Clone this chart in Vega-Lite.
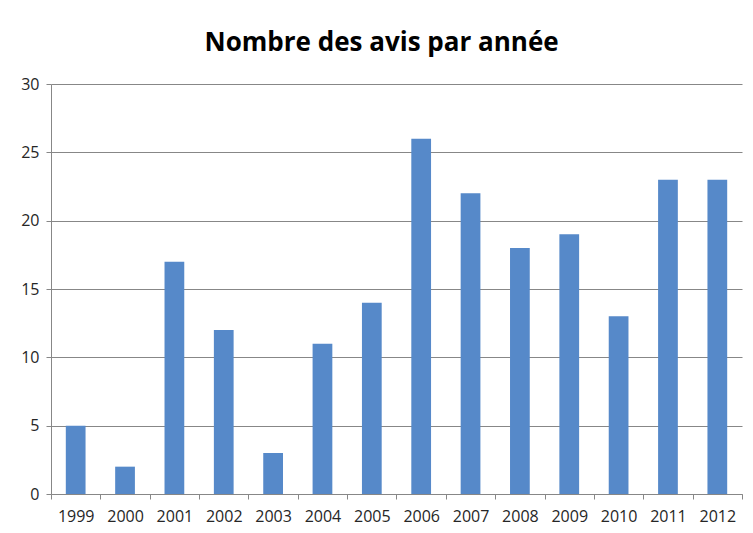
{
  "$schema": "https://vega.github.io/schema/vega-lite/v6.json",
  "width": 691,
  "height": 410,
  "autosize": {"type": "none"},
  "padding": {"left": 51, "top": 84, "right": 11, "bottom": 39},
  "background": "white",
  "title": {
    "text": "Nombre des avis par année",
    "font": "Open Sans",
    "fontSize": 26,
    "fontWeight": "bold",
    "color": "#000000",
    "anchor": "middle",
    "frame": "bounds",
    "offset": 20
  },
  "config": {
    "view": {"stroke": null},
    "axis": {
      "labelFont": "Open Sans",
      "labelFontSize": 16,
      "labelColor": "#262626",
      "domainColor": "#878787",
      "tickColor": "#878787",
      "gridColor": "#878787",
      "tickSize": 5,
      "title": null
    }
  },
  "data": {
    "values": [
      {"annee": "1999", "avis": 5},
      {"annee": "2000", "avis": 2},
      {"annee": "2001", "avis": 17},
      {"annee": "2002", "avis": 12},
      {"annee": "2003", "avis": 3},
      {"annee": "2004", "avis": 11},
      {"annee": "2005", "avis": 14},
      {"annee": "2006", "avis": 26},
      {"annee": "2007", "avis": 22},
      {"annee": "2008", "avis": 18},
      {"annee": "2009", "avis": 19},
      {"annee": "2010", "avis": 13},
      {"annee": "2011", "avis": 23},
      {"annee": "2012", "avis": 23}
    ]
  },
  "mark": {"type": "bar", "color": "#5689C9", "width": {"band": 0.4}},
  "encoding": {
    "x": {
      "field": "annee",
      "type": "nominal",
      "sort": null,
      "scale": {"paddingInner": 0, "paddingOuter": 0},
      "axis": {"labelAngle": 0, "tickBand": "extent", "tickExtra": true, "labelPadding": 9, "grid": false}
    },
    "y": {
      "field": "avis",
      "type": "quantitative",
      "scale": {"domain": [0, 30]},
      "axis": {"values": [0, 5, 10, 15, 20, 25, 30], "grid": true, "labelPadding": 7}
    }
  }
}
